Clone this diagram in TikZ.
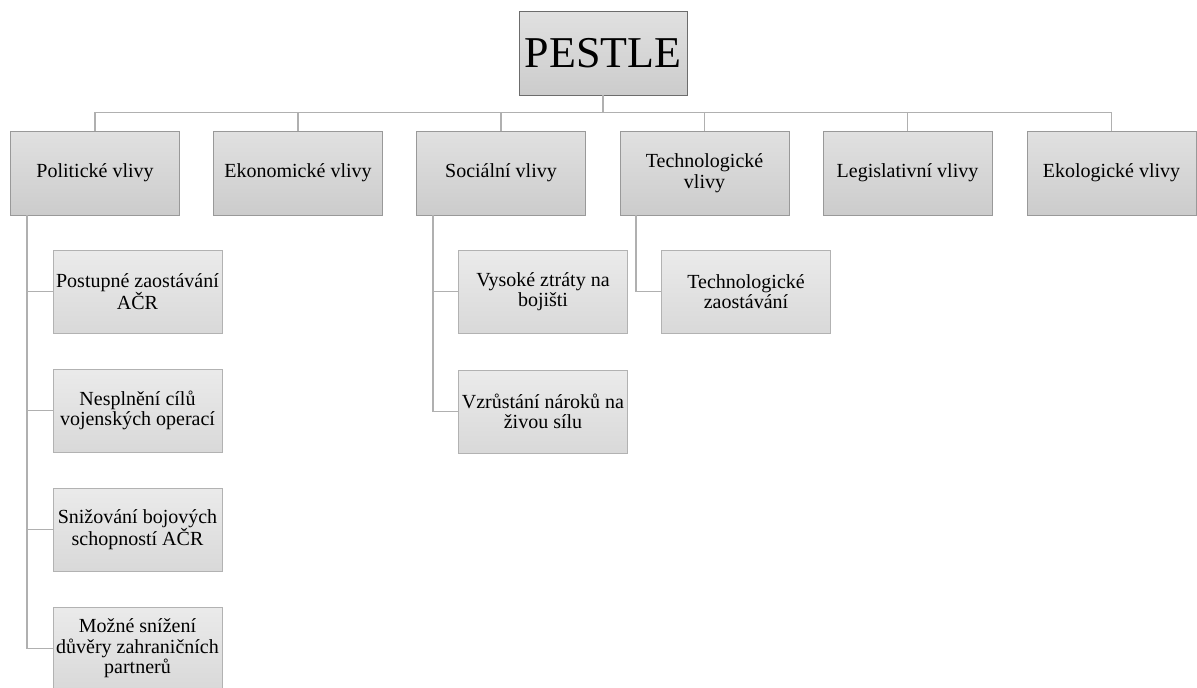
\documentclass[tikz,border=0pt]{standalone}
\usepackage{fontspec}
\setmainfont{Liberation Serif}
\begin{document}
\begin{tikzpicture}[x=1pt,y=-1pt,
  box/.style={draw=gray!80, line width=0.8pt, top color=gray!24, bottom color=gray!40,
    minimum width=169pt, minimum height=84pt, inner sep=2pt, align=center,
    font=\fontsize{20}{20.5}\selectfont},
  leaf/.style={box, draw=gray!60, top color=gray!16, bottom color=gray!30, minimum height=83pt},
  root/.style={box, draw=gray!115, minimum width=168pt, font=\fontsize{44}{48}\selectfont},
  link/.style={draw=gray!62, line width=1.8pt}]
\useasboundingbox (0,0) rectangle (1197,688);

% root and first level
\node[root] (pestle) at (603,53) {PESTLE};
\coordinate (bus) at (603,112.5);
\node[box] (pol) at (95,173) {Politické vlivy};
\node[box] (eko) at (298,173) {Ekonomické vlivy};
\node[box] (soc) at (501,173) {Sociální vlivy};
\node[box] (tech) at (704.5,173) {Technologické\\vlivy};
\node[box] (leg) at (907.5,173) {Legislativní vlivy};
\node[box] (ekol) at (1111.5,173) {Ekologické vlivy};

% second level
\node[leaf] (pol1) at (137.5,291.5) {Postupné zaostávání\\AČR};
\node[leaf] (pol2) at (137.5,410.5) {Nesplnění cílů\\vojenských operací};
\node[leaf] (pol3) at (137.5,529.5) {Snižování bojových\\schopností AČR};
\node[leaf] (pol4) at (137.5,648.5) {Možné snížení\\důvěry zahraničních\\partnerů};
\node[leaf] (soc1) at (543,291.5) {Vysoké ztráty na\\bojišti};
\node[leaf] (soc2) at (543,411.5) {Vzrůstání nároků na\\živou sílu};
\node[leaf] (tech1) at (746,291.5) {Technologické\\zaostávání};

% connectors
\draw[link] (pestle.south) -- (bus);
\foreach \n in {pol,eko,soc,tech,leg,ekol}
  \draw[link] (bus) -| (\n.north);
\foreach \n in {pol1,pol2,pol3,pol4}
  \draw[link] ([xshift=17pt]pol.south west) |- (\n.west);
\foreach \n in {soc1,soc2}
  \draw[link] ([xshift=17pt]soc.south west) |- (\n.west);
\draw[link] ([xshift=16pt]tech.south west) |- (tech1.west);
\end{tikzpicture}
\end{document}
